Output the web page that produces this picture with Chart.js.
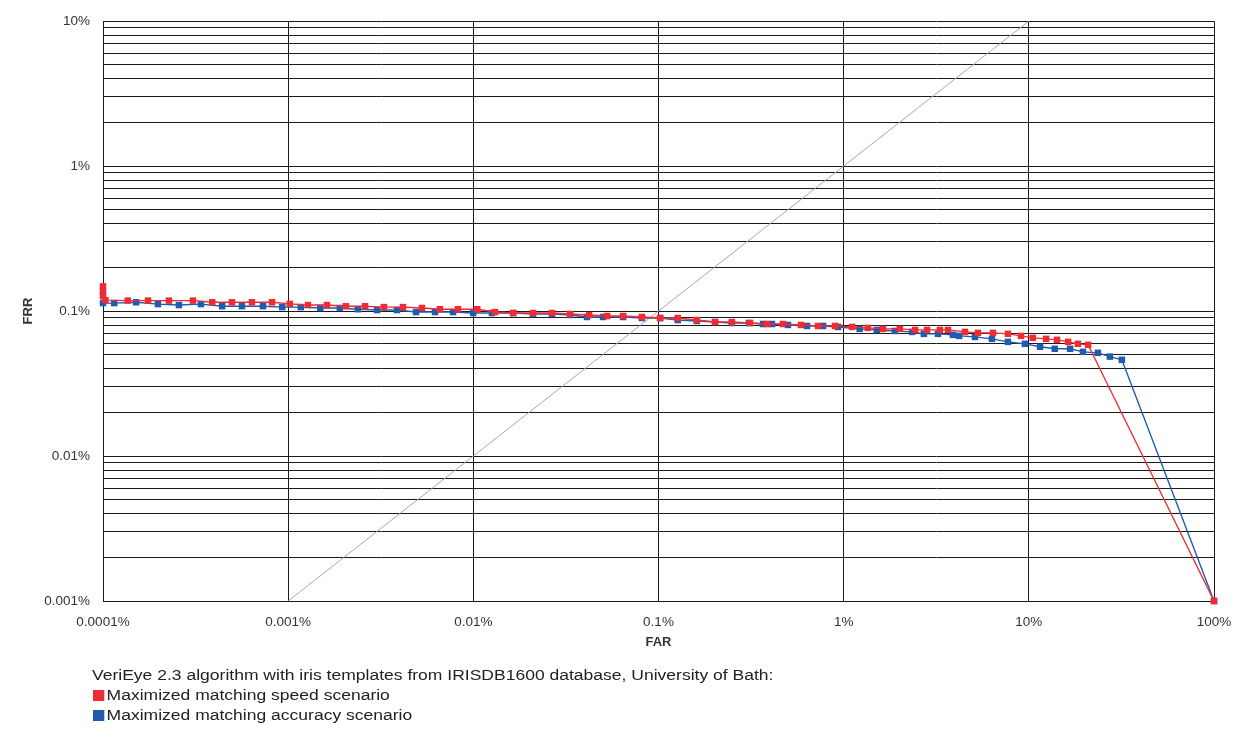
<!DOCTYPE html>
<html>
<head>
<meta charset="utf-8">
<script src="https://cdn.jsdelivr.net/npm/chart.js@4.4.1/dist/chart.umd.min.js"></script>
<style>
  html, body { margin: 0; padding: 0; background: #fff; }
  #wrap { position: relative; width: 1248px; height: 740px; }
  #c { position: absolute; left: 0; top: 0; }
  .leg { position: absolute; font-family: "Liberation Sans", Arial, sans-serif; font-size: 15.5px; color: #222; white-space: nowrap; line-height: 18px; transform: scaleX(1.13); transform-origin: 0 50%; }
  .sw { display: inline-block; width: 10px; height: 11px; margin-right: 2px; vertical-align: -1px; }
</style>
</head>
<body>
<div id="wrap">
  <canvas id="c" width="1248" height="740"></canvas>
  <div class="leg" style="left:92px; top:666px;">VeriEye 2.3 algorithm with iris templates from IRISDB1600 database, University of Bath:</div>
  <div class="leg" style="left:93px; top:686px;"><span class="sw" style="background:#EE2C35"></span>Maximized matching speed scenario</div>
  <div class="leg" style="left:93px; top:706px;"><span class="sw" style="background:#1F5CB0"></span>Maximized matching accuracy scenario</div>
</div>
<script>
// Axis ticks (values in percent)
const farTickValues = [0.0001, 0.001, 0.01, 0.1, 1, 10, 100];
const farTickLabels = ["0.0001%", "0.001%", "0.01%", "0.1%", "1%", "10%", "100%"];
const frrDecadeValues = [0.001, 0.01, 0.1, 1, 10];
const frrDecadeLabels = ["0.001%", "0.01%", "0.1%", "1%", "10%"];
const frrMinorMultipliers = [1, 2, 3, 4, 5, 6, 7, 8, 9];

// Maximized matching speed scenario (FAR %, FRR %)
const speedFAR = [0.0001, 0.0001, 0.0001, 0.000103, 0.000136, 0.000175, 0.000227, 0.000306, 0.000389, 0.000497, 0.000637, 0.000818,
  0.00102, 0.00128, 0.00162, 0.00205, 0.00260, 0.00329, 0.00417, 0.00528, 0.00660, 0.00826,
  0.0105, 0.0131, 0.0164, 0.0210, 0.0266, 0.0333, 0.0422, 0.0528, 0.0644, 0.0814,
  0.102, 0.127, 0.161, 0.202, 0.249, 0.312, 0.385, 0.470, 0.588, 0.727, 0.899,
  1.11, 1.35, 1.63, 2.01, 2.43, 2.82, 3.31, 3.66, 4.52, 5.31, 6.40, 7.71, 9.07,
  10.5, 12.4, 14.2, 16.3, 18.4, 20.9, 100];
const speedFRR = [0.148, 0.137, 0.127, 0.119, 0.118, 0.118, 0.118, 0.118, 0.115, 0.115, 0.115, 0.115,
  0.112, 0.110, 0.110, 0.108, 0.108, 0.1065, 0.1065, 0.105, 0.103, 0.103,
  0.103, 0.0984, 0.0969, 0.0969, 0.0969, 0.0954, 0.0939, 0.0924, 0.0924, 0.0910,
  0.0895, 0.0895, 0.0867, 0.0840, 0.0840, 0.0827, 0.0814, 0.0814, 0.0802, 0.0789, 0.0789,
  0.0777, 0.0765, 0.0753, 0.0753, 0.0741, 0.0741, 0.0741, 0.0741, 0.0718, 0.0707, 0.0707, 0.0696, 0.0674,
  0.0653, 0.0643, 0.0633, 0.0613, 0.0594, 0.0585, 0.001];

// Maximized matching accuracy scenario (FAR %, FRR %)
const accuracyFAR = [0.0001, 0.000115, 0.000151, 0.000198, 0.000257, 0.000338, 0.000440, 0.000563, 0.000731, 0.000929,
  0.00117, 0.00149, 0.00190, 0.00238, 0.00302, 0.00387, 0.00490, 0.00621, 0.00777, 0.00998,
  0.0126, 0.0164, 0.0210, 0.0266, 0.0333, 0.0411, 0.0502, 0.0644, 0.0814,
  0.102, 0.127, 0.161, 0.202, 0.249, 0.308, 0.367, 0.410, 0.500, 0.634, 0.774, 0.932,
  1.22, 1.51, 1.89, 2.34, 2.71, 3.23, 3.89, 4.20, 5.12, 6.32, 7.71, 9.52,
  11.5, 13.8, 16.7, 19.6, 23.6, 27.4, 31.8, 100];
const accuracyFRR = [0.1135, 0.1135, 0.115, 0.1117, 0.110, 0.1117, 0.108, 0.108, 0.108, 0.1065,
  0.1065, 0.105, 0.105, 0.103, 0.1016, 0.1016, 0.0984, 0.0984, 0.0984, 0.0969,
  0.0969, 0.0969, 0.0954, 0.0954, 0.0939, 0.0910, 0.0910, 0.0910, 0.0895,
  0.0895, 0.0867, 0.0854, 0.0840, 0.0827, 0.0827, 0.0814, 0.0814, 0.0802, 0.0789, 0.0789, 0.0777,
  0.0753, 0.0741, 0.0729, 0.0718, 0.0696, 0.0696, 0.0685, 0.0674, 0.0663, 0.0643, 0.0613, 0.0594,
  0.0567, 0.0549, 0.0549, 0.0523, 0.0515, 0.0485, 0.0461, 0.001];

// Equal error rate reference line (FAR = FRR)
const eerLineFAR = [0.001, 10];
const eerLineFRR = [0.001, 10];

const zip = (xs, ys) => xs.map((x, i) => ({ x: x, y: ys[i] }));

const RED = '#EE2C35';
const BLUE = '#1F5CB0';
const FONT = '"Liberation Sans", Arial, sans-serif';

const frrTickValues = [];
frrDecadeValues.slice(0, -1).forEach(d => frrMinorMultipliers.forEach(m => frrTickValues.push(+(d * m).toPrecision(3))));
frrTickValues.push(frrDecadeValues[frrDecadeValues.length - 1]);

new Chart(document.getElementById('c'), {
  type: 'scatter',
  data: {
    datasets: [
      {
        label: 'Maximized matching speed scenario',
        data: zip(speedFAR, speedFRR),
        showLine: true,
        clip: false,
        borderColor: RED,
        backgroundColor: RED,
        borderWidth: 1.4,
        pointStyle: 'rect',
        pointRadius: 4.6,
        pointBorderWidth: 0,
        order: 0
      },
      {
        label: 'Maximized matching accuracy scenario',
        data: zip(accuracyFAR, accuracyFRR),
        showLine: true,
        clip: false,
        borderColor: BLUE,
        backgroundColor: BLUE,
        borderWidth: 1.4,
        pointStyle: 'rect',
        pointRadius: 4.6,
        pointBorderWidth: 0,
        order: 1
      },
      {
        label: 'FAR = FRR',
        data: zip(eerLineFAR, eerLineFRR),
        showLine: true,
        borderColor: '#A8A8A8',
        borderWidth: 1,
        pointRadius: 0,
        order: 2
      }
    ]
  },
  options: {
    responsive: false,
    animation: false,
    layout: { padding: { left: 0, top: 19, right: 34, bottom: 79 } },
    plugins: { legend: { display: false }, tooltip: { enabled: false } },
    scales: {
      x: {
        type: 'logarithmic',
        min: 0.0001,
        max: 100,
        afterBuildTicks: s => { s.ticks = farTickValues.map(v => ({ value: v })); },
        afterFit: s => { s.height = 60; },
        ticks: {
          autoSkip: false,
          maxRotation: 0,
          padding: 13,
          color: '#333',
          font: { family: FONT, size: 13.5 },
          callback: (v) => { const i = farTickValues.findIndex(t => Math.abs(Math.log10(t) - Math.log10(v)) < 1e-6); return i >= 0 ? farTickLabels[i] : ''; }
        },
        grid: { color: '#1a1a1a', lineWidth: 1, drawTicks: false },
        border: { display: true, color: '#1a1a1a', width: 1 },
        title: { display: true, text: 'FAR', color: '#333', font: { family: FONT, size: 13, weight: 'bold' }, padding: { top: 0, bottom: 11 } }
      },
      y: {
        type: 'logarithmic',
        min: 0.001,
        max: 10,
        afterBuildTicks: s => { s.ticks = frrTickValues.map(v => ({ value: v })); },
        afterFit: s => { s.width = 103; },
        ticks: {
          autoSkip: false,
          padding: 13,
          color: '#333',
          font: { family: FONT, size: 13.5 },
          callback: (v) => { const i = frrDecadeValues.findIndex(t => Math.abs(Math.log10(t) - Math.log10(v)) < 1e-6); return i >= 0 ? frrDecadeLabels[i] : ''; }
        },
        grid: { color: '#1a1a1a', lineWidth: 1, drawTicks: false },
        border: { display: true, color: '#1a1a1a', width: 1 },
        title: { display: true, text: 'FRR', color: '#333', font: { family: FONT, size: 13, weight: 'bold' }, padding: { top: 21, bottom: 0 } }
      }
    }
  }
});
</script>
</body>
</html>
